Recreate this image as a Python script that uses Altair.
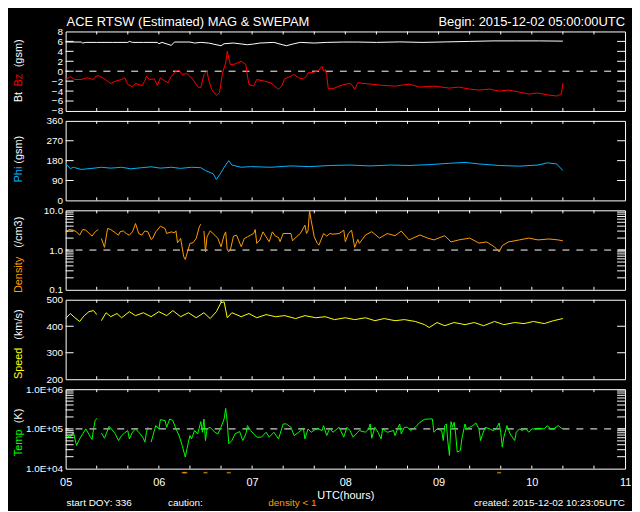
import altair as alt
import pandas as pd

FONT = "Liberation Sans"
W, H = 563, 80

# ---------------- data (minutes after 05:00 UTC) ----------------
bt_min = [0, 10, 11, 13, 20, 30, 40, 41, 43, 50, 59, 60, 62, 68, 70, 80, 83, 87, 92, 100, 102, 108, 117, 121,
          125, 134, 142, 147, 151, 160, 168, 179, 188, 200, 215, 230, 245, 260, 275, 290, 305, 320]
bt_val = [5.87, 5.87, 5.67, 5.8, 5.8, 5.8, 5.8, 6.0, 5.8, 5.8, 5.8, 5.53, 5.8, 5.2, 5.87, 5.87, 5.67, 5.8, 5.67,
          5.13, 5.53, 5.67, 5.33, 5.47, 5.67, 5.8, 5.13, 5.53, 5.8, 5.67, 5.8, 5.87, 5.87, 5.8, 5.9, 5.8, 5.9,
          6.0, 6.1, 6.1, 6.1, 6.05]

bz_min = [0, 3, 6, 10, 14, 18, 19, 21, 25, 29, 32, 36, 38, 40, 43, 45, 49, 51, 52, 54, 57, 59, 61, 64, 66, 68,
          71, 73, 75, 78, 82, 85, 87, 89, 91, 92, 94, 97, 99, 101, 102, 103, 104, 106, 108, 113, 116, 117, 118,
          121, 123, 128, 132, 137, 139, 141, 145, 147, 150, 153, 155, 156, 160, 163, 165, 166, 167, 168, 169,
          172, 176, 179, 183, 185, 186, 188, 196, 202, 212, 221, 228, 237, 247, 253, 260, 266, 273, 279, 285,
          292, 298, 304, 311, 316, 319, 320]
bz_val = [-1.67, -1.13, -1.67, -1.67, -1.33, -1.67, -1.13, -0.87, -1.53, -2.47, -2.0, -1.67, -1.33, -2.67,
          -3.13, -2.47, -2.87, -2.0, -1.0, -1.67, -1.53, -2.87, -1.33, -2.0, -2.33, -1.0, 0.0, 0.2, -0.67, -0.47,
          -1.67, -3.13, -3.33, -0.67, 0.0, -1.67, -3.67, -4.87, -4.33, -0.33, 0.67, 1.67, 4.0, 1.33, 1.33, 2.0,
          1.33, -1.0, -2.67, -3.0, -1.67, -2.0, -2.33, -3.67, -3.0, -1.53, -1.0, -0.67, -1.33, -1.53, -1.0,
          -0.33, -0.2, 0.2, 1.0, 0.0, 0.33, -0.67, -3.53, -3.53, -3.0, -2.67, -2.47, -3.0, -3.67, -2.33, -2.6,
          -2.8, -3.0, -2.6, -3.2, -3.0, -3.4, -3.2, -3.6, -3.8, -3.6, -4.0, -3.8, -4.2, -4.6, -4.4, -4.8, -5.0,
          -4.6, -2.4]

phi_min = [0, 3, 5, 10, 17, 23, 29, 36, 42, 49, 55, 61, 68, 74, 81, 87, 90, 95, 97, 100, 102, 105, 107, 113,
           119, 132, 145, 157, 170, 183, 196, 209, 221, 234, 247, 257, 266, 279, 292, 304, 310, 316, 320]
phi_val = [166, 144, 150, 140, 145, 150, 146, 150, 143, 148, 152, 146, 150, 145, 150, 148, 135, 120, 95, 125,
           150, 180, 160, 150, 153, 150, 156, 153, 158, 160, 156, 160, 158, 162, 168, 172, 165, 158, 155, 160,
           170, 165, 135]

den_min = [0, 2, 5, 7, 9, 11, 13, 17, 19, 21, 22, 23, 25, 27, 29, 32, 34, 35, 37, 39, 41, 43, 45, 47, 49, 51,
           53, 55, 56, 58, 61, 64, 65, 68, 70, 71, 72, 74, 76, 77, 80, 82, 84, 86, 87, 88, 89, 90, 91, 93, 96,
           98, 100, 102, 103, 104, 105, 106, 108, 110, 113, 115, 117, 119, 121, 122, 123, 125, 127, 129, 131,
           133, 135, 137, 138, 140, 145, 146, 149, 151, 154, 155, 156, 157, 158, 160, 162, 163, 166, 168, 170,
           172, 176, 179, 180, 182, 184, 185, 186, 188, 189, 193, 197, 202, 207, 212, 216, 221, 228, 233, 237,
           244, 248, 253, 260, 266, 271, 276, 279, 281, 285, 292, 298, 304, 311, 317, 320]
den_val = [2.61, 3.29, 3.16, 2.87, 2.37, 3.29, 3.16, 2.24, 2.87, 3.29, None, 1.96, 1.17, 3.48, 3.29, 2.71,
           2.37, 2.87, 3.04, 2.61, 2.37, 2.87, 4.64, 2.61, 2.37, 3.04, 2.87, 1.85, 1.96, 2.87, 3.98, 3.48, 2.61,
           2.87, 2.71, 3.04, 1.53, 1.96, 0.68, 0.58, 1.47, 1.53, 1.96, 3.83, 4.47, None, 3.04, 0.91, 2.15, 3.04,
           2.37, 1.96, 1.21, 2.37, 2.87, 1.0, 0.91, 1.0, 2.24, 2.37, 1.21, 1.96, 2.15, 2.37, 2.61, 3.29, 1.47,
           1.78, 2.87, 2.15, 1.62, 2.87, 2.24, 2.07, 1.62, 2.61, 2.61, 1.71, 2.24, 2.61, 4.22, 2.61, 3.04, 9.8,
           5.62, 2.15, 1.47, 1.33, 2.61, 2.24, 2.61, 2.51, 2.61, 3.16, 1.62, 2.61, 3.16, 1.96, 1.17, 1.85, 1.47,
           2.4, 2.9, 2.0, 2.6, 2.3, 3.0, 1.8, 2.4, 2.0, 1.8, 2.3, 1.6, 1.8, 2.0, 1.5, 1.6, 1.2, 0.9, 1.3, 1.6,
           1.8, 2.0, 1.8, 1.9, 1.8, 1.7]

spd_min = [0, 3, 6, 9, 12, 15, 18, 20, 22, 23, 26, 29, 33, 36, 41, 45, 50, 55, 60, 65, 69, 74, 79, 84, 89, 93,
           97, 100, 102, 104, 107, 113, 118, 123, 129, 135, 141, 148, 154, 161, 167, 173, 180, 186, 193, 199,
           205, 212, 218, 225, 231, 234, 239, 244, 250, 257, 263, 269, 276, 282, 289, 295, 301, 308, 314, 320]
spd_val = [429, 448, 432, 418, 440, 455, 459, 444, None, 421, 451, 436, 448, 432, 455, 440, 451, 436, 455, 440,
           459, 436, 451, 432, 451, 429, 455, 489, 492, 432, 451, 436, 448, 432, 444, 436, 440, 429, 440, 432,
           436, 425, 432, 425, 432, 421, 429, 421, 425, 418, 406, 395, 414, 402, 414, 406, 414, 402, 418, 406,
           414, 410, 418, 410, 421, 429]

tmp_min = [0, 3, 5, 7, 9, 11, 13, 16, 17, 18, 19, 20, 21, 23, 25, 28, 32, 34, 36, 38, 40, 41, 43, 45, 48, 50,
           51, 52, 53, 54, 55, 58, 60, 61, 64, 65, 67, 69, 71, 73, 75, 77, 79, 80, 81, 83, 85, 87, 88, 89, 90,
           91, 93, 96, 98, 100, 102, 103, 104, 105, 107, 109, 112, 114, 116, 117, 119, 121, 123, 126, 129, 131,
           134, 137, 140, 142, 145, 147, 150, 153, 154, 156, 158, 162, 165, 166, 168, 170, 172, 176, 179, 181,
           183, 185, 188, 189, 193, 195, 196, 197, 199, 201, 203, 204, 207, 211, 212, 214, 215, 216, 218, 220,
           222, 225, 228, 231, 234, 236, 237, 239, 242, 243, 244, 245, 246, 247, 248, 249, 250, 251, 252, 254,
           255, 257, 258, 260, 262, 264, 266, 267, 268, 270, 273, 275, 277, 279, 280, 281, 282, 284, 286, 289,
           290, 292, 294, 296, 298, 300, 302, 304, 308, 310, 312, 314, 317, 319, 320]
tmp_val = [68000, 62000, 82500, 38300, 56200, 75000, 100000, 62000, 54100, 100000, 161600, 184800, None,
           79400, 58400, 116700, 75000, 51100, 68000, 79400, 90900, 56200, 82500, 100000, 75000, 58400, 46400,
           82500, 110000, None, 46400, 121100, 100000, 171100, 161600, 110000, 177800, 161600, 100000, 68000,
           38300, 19600, 46400, 68000, 56200, 90900, 75000, 152400, 82500, 177800, 51100, 100000, 110000, 82500,
           75000, 110000, 177800, 328500, 146800, 42200, 51100, 75000, 85800, 51100, 75000, 121100, 90900,
           75000, 62000, 62000, 82500, 62000, 82500, 56200, 133400, 133400, 110000, 68000, 82500, 103900, 56200,
           100000, 82500, 103900, 90900, 121100, 68000, 103900, 82500, 110000, 62000, 110000, 90900, 62000,
           82500, 90900, 82500, 100000, 133400, 58400, 110000, 82500, 56200, 100000, 82500, 90900, 68000, 110000,
           133400, 75000, 110000, 110000, 90900, 110000, 146800, 174600, 177800, 177800, 82500, 100000, 90900,
           51100, 121100, 133400, 46400, 21500, 152400, 110000, 146800, 75000, 26100, 28700, 56200, 133400,
           100000, 110000, 121100, 141300, 100000, 51100, 68000, 110000, 100000, 90900, 100000, 141300, 82500,
           34800, 62000, 121100, 75000, 51100, 82500, 100000, 90900, 103900, 82500, 100000, 100000, 103900,
           100000, 121100, 100000, 100000, 121100, 103900, 103900]

# axis tick values / labels
x_label_vals = [0, 60, 120, 180, 240, 300, 360]
x_minor = [20, 40, 60, 80, 100, 120, 140, 160, 180, 200, 220, 240, 260, 280, 300, 320, 340]
bz_labels = [-8, -6, -4, -2, 0, 2, 4, 6, 8]
bz_ticks = [-6, -4, -2, 0, 2, 4, 6]
phi_labels = [0, 90, 180, 270, 360]
phi_ticks = [90, 180, 270]
den_labels = [0.1, 1, 10]
den_ticks = [0.2, 0.3, 0.4, 0.5, 0.6, 0.7, 0.8, 0.9, 1, 2, 3, 4, 5, 6, 7, 8, 9]
spd_labels = [200, 300, 400, 500]
spd_ticks = [300, 400]
tmp_labels = [1e4, 1e5, 1e6]
tmp_ticks = [2e4, 3e4, 4e4, 5e4, 6e4, 7e4, 8e4, 9e4, 1e5, 2e5, 3e5, 4e5, 5e5, 6e5, 7e5, 8e5, 9e5]

title_left = "ACE RTSW (Estimated) MAG & SWEPAM"
title_right = "Begin: 2015-12-02 05:00:00UTC"
foot_doy = "start DOY: 336"
foot_caution = "caution:"
foot_density = "density < 1"
foot_created = "created: 2015-12-02 10:23:05UTC"

C_BT, C_BZ, C_PHI, C_DEN, C_SPD, C_TMP = "white", "#ff0000", "#00b4ff", "#ff9c00", "#ffff00", "#00ff00"

one = pd.DataFrame({"a": [0]})


def X(axis=None):
    return alt.X("m:Q", scale=alt.Scale(domain=[0, 360], nice=False, zero=False), axis=axis)


def txt(s, x, y, color="white", size=11, angle=0, align="center"):
    return alt.Chart(one).mark_text(
        text=s, font=FONT, fontSize=size, color=color, angle=angle, align=align, baseline="middle"
    ).encode(x=alt.value(x), y=alt.value(y))


def vlabel(s, yc, color):
    return txt(s, -47, yc, color=color, size=11, angle=270)


def panel(lines, ysc, yaxis, yticks, ref=None, xaxis=None, extras=()):
    Y = alt.Y("v:Q", scale=ysc, axis=yaxis)
    layers = []
    if ref is not None:
        layers.append(alt.Chart(pd.DataFrame({"v": [ref]})).mark_rule(
            color="white", strokeDash=[7, 7], strokeWidth=1).encode(y=Y))
    for df, color in lines:
        layers.append(alt.Chart(df).mark_line(
            color=color, strokeWidth=1, invalid="break-paths-show-domains").encode(x=X(xaxis), y=Y))
    tdf = pd.DataFrame({"v": yticks})
    layers.append(alt.Chart(tdf).mark_rule(color="white").encode(y=Y, x=alt.value(0), x2=alt.value(8)))
    layers.append(alt.Chart(tdf).mark_rule(color="white").encode(y=Y, x=alt.value(W - 8), x2=alt.value(W)))
    xdf = pd.DataFrame({"m": x_minor})
    layers.append(alt.Chart(xdf).mark_rule(color="white").encode(x=X(xaxis), y=alt.value(0), y2=alt.value(3)))
    layers.append(alt.Chart(xdf).mark_rule(color="white").encode(x=X(xaxis), y=alt.value(H - 3), y2=alt.value(H)))
    layers += list(extras)
    return alt.layer(*layers).properties(width=W, height=H)


def yaxis(values, expr=None):
    kw = dict(values=values, title=None, ticks=False, domain=False, grid=False, labelPadding=3,
              labelOverlap=False)
    if expr:
        kw["labelExpr"] = expr
    return alt.Axis(**kw)


df_bt = pd.DataFrame({"m": bt_min, "v": bt_val})
df_bz = pd.DataFrame({"m": bz_min, "v": bz_val})
df_phi = pd.DataFrame({"m": phi_min, "v": phi_val})
df_den = pd.DataFrame({"m": den_min, "v": den_val})
df_spd = pd.DataFrame({"m": spd_min, "v": spd_val})
df_tmp = pd.DataFrame({"m": tmp_min, "v": tmp_val})

p1 = panel([(df_bt, C_BT), (df_bz, C_BZ)],
           alt.Scale(domain=[-8, 8], nice=False, zero=False), yaxis(bz_labels), bz_ticks, ref=0,
           extras=[vlabel("Bt", 66, "white"), vlabel("Bz", 49, C_BZ), vlabel("(gsm)", 22, "white"),
                   txt(title_left, 1, -9, size=13, align="left"),
                   txt(title_right, W, -9, size=13, align="right")])

p2 = panel([(df_phi, C_PHI)],
           alt.Scale(domain=[0, 360], nice=False, zero=False), yaxis(phi_labels), phi_ticks,
           extras=[vlabel("Phi", 54, C_PHI), vlabel("(gsm)", 29, "white")])

p3 = panel([(df_den, C_DEN)],
           alt.Scale(type="log", domain=[0.1, 10], nice=False), yaxis(den_labels, "format(datum.value, '.1f')"),
           den_ticks, ref=1,
           extras=[vlabel("Density", 65, C_DEN), vlabel("(/cm3)", 22, "white")])

p4 = panel([(df_spd, C_SPD)],
           alt.Scale(domain=[200, 500], nice=False, zero=False), yaxis(spd_labels), spd_ticks,
           extras=[vlabel("Speed", 64, C_SPD), vlabel("(km/s)", 25, "white")])

xax = alt.Axis(values=x_label_vals, labelExpr="format(5 + datum.value / 60, '02d')", title="UTC(hours)",
               titleFont=FONT, titleFontSize=11, titleFontWeight="normal", titleColor="white",
               ticks=False, domain=False, grid=False, labelFlush=False, labelPadding=8, titlePadding=2,
               labelFontSize=11)

caution = alt.Chart(df_den).transform_filter("isValid(datum.v) && datum.v < 1").mark_tick(
    orient="horizontal", color=C_DEN, size=4, thickness=1.5).encode(x=X(xax), y=alt.value(84))

p5 = panel([(df_tmp, C_TMP)],
           alt.Scale(type="log", domain=[1e4, 1e6], nice=False),
           yaxis(tmp_labels, "'1.0E+0' + round(log(datum.value) / LN10)"), tmp_ticks, ref=1e5, xaxis=xax,
           extras=[vlabel("Temp", 54, C_TMP), vlabel("(K)", 27, "white"), caution,
                   txt(foot_doy, 1, 115, size=10, align="left"),
                   txt(foot_caution, 103, 115, size=10, align="left"),
                   txt(foot_density, 204, 115, size=10, color=C_DEN, align="left"),
                   txt(foot_created, W, 115, size=10, align="right")])

chart = alt.vconcat(p1, p2, p3, p4, p5, spacing=10, bounds="flush").properties(
    background="black", padding={"left": 4, "top": 6, "right": 0, "bottom": 0}
).configure_view(stroke="white", strokeWidth=1).configure_axis(
    labelColor="white", labelFont=FONT, labelFontSize=10
)

chart.save("out.html", embed_options={"renderer": "svg", "actions": False})
